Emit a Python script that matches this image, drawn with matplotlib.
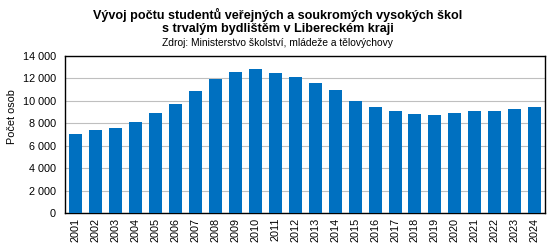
import matplotlib
matplotlib.use("Agg")
import matplotlib.pyplot as plt
from matplotlib.ticker import FuncFormatter

years = [str(y) for y in range(2001, 2025)]
students = [7050, 7400, 7600, 8100, 8950, 9750, 10900, 11950, 12600, 12850,
            12500, 12150, 11600, 11000, 10000, 9450, 9100, 8850, 8750, 8950,
            9100, 9100, 9300, 9450]

plt.rcParams['font.family'] = ['Liberation Sans', 'DejaVu Sans']

fig = plt.figure(figsize=(5.52, 2.52), dpi=100)
ax = fig.add_axes([0.1178, 0.1548, 0.8695, 0.623])

x = range(len(years))
ax.bar(x, students, width=0.65, color='#0070C0', zorder=3)

ax.set_xlim(-0.5, len(years) - 0.5)
ax.set_ylim(0, 14000)
ax.set_yticks(range(0, 14001, 2000))
ax.yaxis.set_major_formatter(FuncFormatter(lambda v, p: f"{int(v):,}".replace(",", " ")))
ax.set_xticks(list(x))
ax.set_xticklabels(years, rotation=90, fontsize=7.8)
ax.tick_params(axis='y', labelsize=7.8, length=0, pad=6.5)
ax.tick_params(axis='x', length=0, pad=3.5)
ax.grid(axis='y', color='#BFBFBF', linewidth=0.8, zorder=0)
for s in ax.spines.values():
    s.set_color('black')
    s.set_linewidth(1.0)

# y label sits a bit above the axes centre in the original
fig.text(12 / 552, 1 - 117 / 252, 'Počet osob', rotation=90,
         ha='center', va='center', fontsize=7.8)

fig.text(0.503, 0.94, 'Vývoj počtu studentů veřejných a soukromých vysokých škol',
         ha='center', va='center', fontsize=9.1, fontweight='bold')
fig.text(0.503, 0.885, 's trvalým bydlištěm v Libereckém kraji',
         ha='center', va='center', fontsize=9.1, fontweight='bold')
fig.text(0.503, 0.83, 'Zdroj: Ministerstvo školství, mládeže a tělovýchovy',
         ha='center', va='center', fontsize=7.4)

fig.savefig('out.png', dpi=100)
